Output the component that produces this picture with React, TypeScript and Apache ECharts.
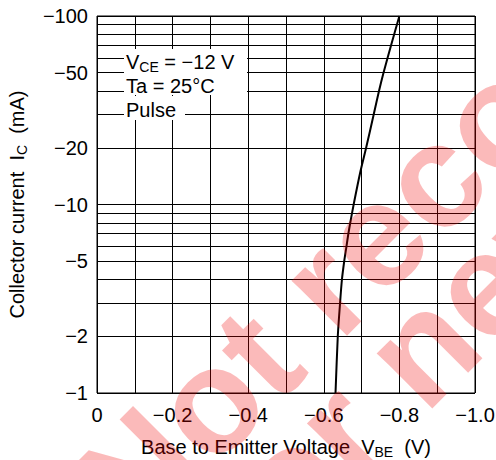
import React, { useEffect, useRef } from 'react';
import * as echarts from 'echarts';

// Collector current magnitude |I_C| (mA) and base-emitter voltage magnitude |V_BE| (V)
const currentMA = [1, 2, 3, 4, 5, 6, 7, 8, 10, 15, 20, 30, 40, 50, 70, 100];
const vbeV = [0.631, 0.637, 0.643, 0.648, 0.654, 0.66, 0.665, 0.67, 0.679, 0.697, 0.712, 0.732, 0.746, 0.758, 0.778, 0.8];

const yGridValues = [1, 2, 3, 4, 5, 6, 7, 8, 9, 10, 20, 30, 40, 50, 60, 70, 80, 90, 100];
const yLabelValues = [1, 2, 5, 10, 20, 50, 100];
const xLabelValues = [0, 0.2, 0.4, 0.6, 0.8, 1.0];

const conditionLines = ['V{sub|CE} = \u221212 V', 'Ta = 25\u00B0C', 'Pulse'];
const watermarkLines = ['Not recommended', 'for new design'];

const FONT = '"Liberation Sans", Arial, Helvetica, sans-serif';
const MINUS = '\u2212';

export default function App() {
  const ref = useRef<HTMLDivElement>(null);

  useEffect(() => {
    if (!ref.current) return;
    const chart = echarts.init(ref.current, undefined, { renderer: 'svg' });

    const subRich = {
      sub: { fontSize: 14, lineHeight: 14, verticalAlign: 'bottom', fontFamily: FONT, color: '#000' },
    };
    const lineStyle = { color: '#000', width: 1 };

    const option: any = {
      animation: false,
      backgroundColor: '#fff',
      grid: {
        left: 97,
        right: 21,
        top: 16,
        bottom: 67,
        show: true,
        borderColor: '#000',
        borderWidth: 1,
        containLabel: false,
        outerBoundsMode: 'none',
      },
      xAxis: {
        type: 'value',
        min: 0,
        max: 1,
        interval: 0.1,
        axisLine: { show: false },
        axisTick: { show: false },
        splitLine: { show: true, lineStyle },
        axisLabel: {
          customValues: xLabelValues,
          color: '#000',
          fontSize: 20,
          fontFamily: FONT,
          margin: 12,
          formatter: (v: number) => (Math.abs(v) < 1e-9 ? '0' : MINUS + v.toFixed(1)),
        },
        name: 'Base to Emitter Voltage  V{sub|BE}  (V)',
        nameLocation: 'middle',
        nameGap: 42,
        nameTextStyle: { color: '#000', fontSize: 20, fontFamily: FONT, lineHeight: 24, rich: subRich },
      },
      yAxis: [
        { type: 'log', logBase: 10, min: 1, max: 100, show: false },
        {
          type: 'value',
          min: 0,
          max: 2,
          position: 'left',
          axisLine: { show: false },
          axisTick: { show: false, customValues: yGridValues.map((v) => Math.log10(v)) },
          splitLine: { show: true, lineStyle },
          axisLabel: {
            customValues: yLabelValues.map((v) => Math.log10(v)),
            color: '#000',
            fontSize: 20,
            fontFamily: FONT,
            margin: 9,
            formatter: (v: number) => MINUS + Math.round(Math.pow(10, v)),
          },
          name: 'Collector current  I{sub|C}  (mA)',
          nameLocation: 'middle',
          nameRotate: 90,
          nameGap: 68,
          nameTextStyle: { color: '#000', fontSize: 20, fontFamily: FONT, lineHeight: 24, rich: subRich },
        },
      ],
      series: [
        {
          type: 'line',
          yAxisIndex: 0,
          data: currentMA.map((c, i) => [vbeV[i], c]),
          showSymbol: false,
          smooth: 0.25,
          lineStyle: { color: '#000', width: 2 },
          z: 5,
        },
      ],
      graphic: [
        { type: 'rect', shape: { x: 124, y: 49, width: 123, height: 46 }, style: { fill: '#fff' }, z: 10, silent: true },
        { type: 'rect', shape: { x: 124, y: 96, width: 61, height: 24 }, style: { fill: '#fff' }, z: 10, silent: true },
        ...conditionLines.map((t, i) => ({
          type: 'text',
          x: 126,
          y: [62, 86, 110][i],
          z: 11,
          silent: true,
          style: {
            text: t,
            fontSize: 20,
            fontFamily: FONT,
            fill: '#000',
            lineHeight: 24,
            verticalAlign: 'middle',
            align: 'left',
            rich: { sub: { fontSize: 14, lineHeight: 14, verticalAlign: 'bottom', fontFamily: FONT, fill: '#000' } },
          },
        })),
        ...watermarkLines.map((t, i) => ({
          type: 'text',
          x: [100, 220][i],
          y: [510, 548][i],
          rotation: Math.PI / 4,
          z: 100,
          silent: true,
          style: {
            text: t,
            fontSize: 148,
            fontWeight: 'bold',
            fontFamily: FONT,
            fill: 'rgba(240,0,0,0.27)',
            align: 'left',
            verticalAlign: 'middle',
          },
        })),
      ],
    };

    chart.setOption(option);
    return () => chart.dispose();
  }, []);

  return <div ref={ref} style={{ position: 'fixed', left: 0, top: 0, width: 496, height: 460 }} />;
}
